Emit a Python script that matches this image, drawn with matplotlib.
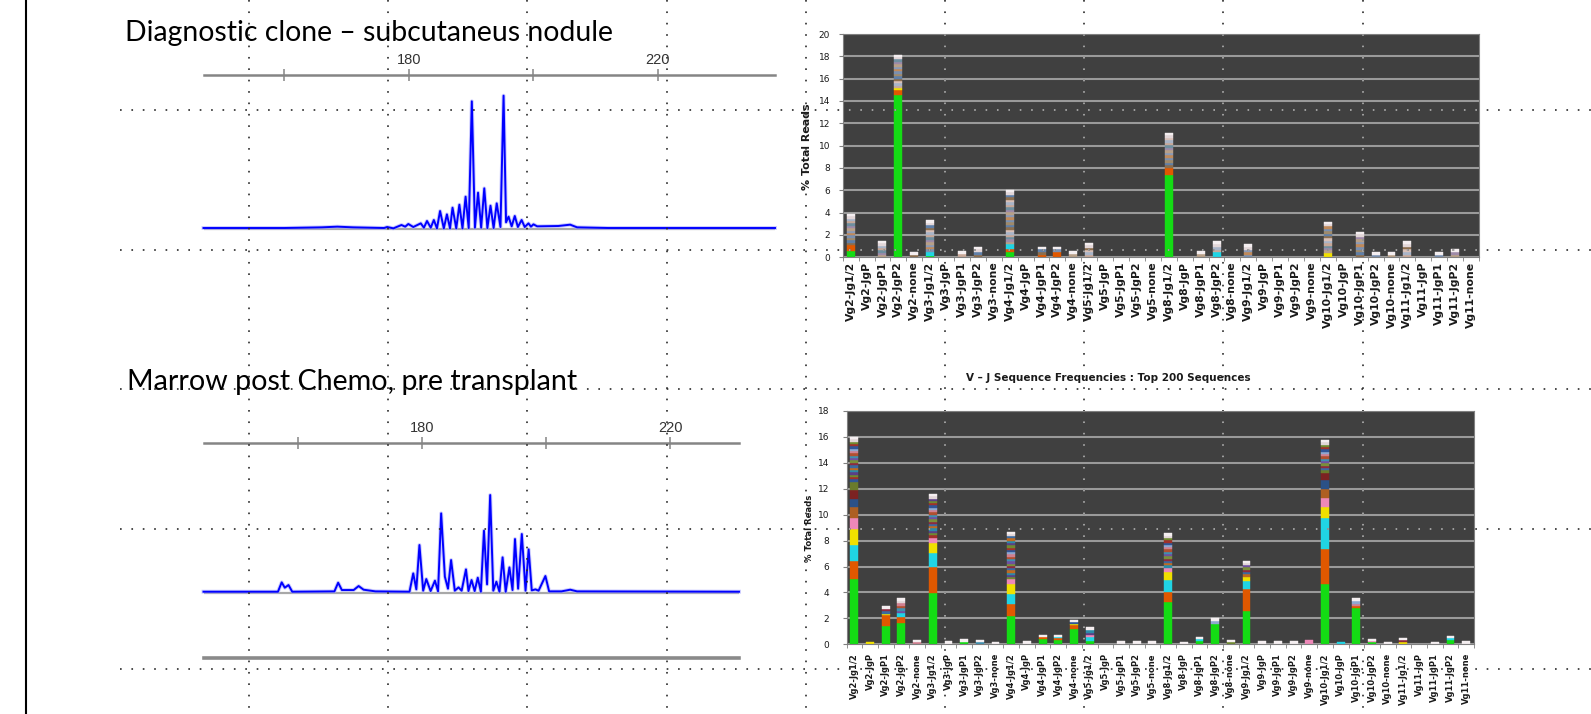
import numpy as np
import matplotlib
matplotlib.use("Agg")
import matplotlib.pyplot as plt
from matplotlib.lines import Line2D

plt.rcParams['lines.scale_dashes'] = False

W, H, DPI = 1591, 714, 100

# ---------------- data ----------------
# capillary electrophoresis traces: fragment size (bp) vs signal (RFU)
diag_bp = [147, 160, 166, 168.5, 171, 176, 176.5, 177.5, 178.8, 179.4, 179.9, 180.7,
           181.9, 182.4, 182.9, 183.5, 184.0, 184.5, 185.0, 185.6, 186.1, 186.6,
           187.0, 187.6, 188.1, 188.6, 189.1, 189.6, 190.1, 190.6, 191.1, 191.6,
           192.1, 192.6, 193.1, 193.6, 194.1, 194.7, 195.2, 195.6, 196.0, 196.5,
           197.0, 197.5, 198.1, 198.6, 199.2, 199.6, 200.0, 200.6, 204, 205.9, 207,
           212, 238.8]
diag_rfu = [30, 30, 50, 70, 50, 30, 60, 20, 120, 70, 150, 60,
            170, 40, 240, 40, 270, 20, 540, 20, 440, 20,
            640, 20, 730, 20, 970, 30, 3830, 40, 1090, 40,
            1220, 30, 700, 30, 770, 60, 4000, 200, 370, 80,
            390, 60, 270, 60, 170, 70, 140, 80, 90, 130, 50,
            30, 30]

marrow_bp = [144.8, 156.8, 157.4, 157.9, 158.5, 159.1, 165.9, 166.5, 167.1, 169.0, 169.8, 170.6, 172.5,
             178.0, 178.6, 179.1, 179.6, 180.2, 180.7, 181.4, 182.1, 182.6, 183.1, 183.7, 184.2,
             184.7, 185.3, 185.9, 186.4, 187.1, 187.5, 188.0, 188.5, 189.0, 189.5, 190.0, 190.5,
             191.0, 191.5, 192.0, 192.5, 193.0, 193.5, 194.1, 194.6, 195.0, 195.5, 196.1, 196.7,
             197.2, 197.7, 198.3, 198.8, 199.9, 200.5, 202.5, 203.9, 205, 231.1]
marrow_rfu = [30, 30, 310, 150, 230, 30, 40, 300, 80, 80, 200, 90, 40,
              30, 580, 100, 1430, 60, 410, 50, 360, 40, 2380, 480, 120,
              980, 60, 160, 60, 700, 50, 380, 50, 450, 30, 1860, 250,
              2930, 60, 330, 30, 1060, 30, 760, 80, 1610, 120, 1760, 60,
              1300, 70, 100, 60, 500, 40, 40, 90, 40, 30]

size_ticks = [160, 180, 200, 220]
size_labels = ['', '180', '', '220']

diag_title = "Diagnostic clone \u2013 subcutaneus nodule"
marrow_title = "Marrow post Chemo, pre transplant"
seq_title = "V \u2013 J Sequence Frequencies : Top 200 Sequences"
y_title = "% Total Reads"

v_genes = ["Vg2", "Vg3", "Vg4", "Vg5", "Vg8", "Vg9", "Vg10", "Vg11"]
j_genes = ["Jg1/2", "JgP", "JgP1", "JgP2", "none"]
categories = [v + "-" + j for v in v_genes for j in j_genes]

# % total reads, diagnostic sample (top chart)
diag_total = [3.9, 0, 1.45, 18.15, 0.45, 3.3, 0, 0.55, 0.95, 0,
              6.05, 0, 0.95, 0.95, 0.55, 1.3, 0, 0, 0, 0,
              11.15, 0, 0.55, 1.42, 0, 1.15, 0, 0, 0, 0,
              3.2, 0, 2.3, 0.45, 0.45, 1.42, 0, 0.45, 0.7, 0]
diag_green = [0.6, 0, 0, 14.55, 0, 0.15, 0, 0, 0, 0,
              0.45, 0, 0, 0, 0, 0, 0, 0, 0, 0,
              7.4, 0, 0, 0, 0, 0, 0, 0, 0, 0,
              0, 0, 0, 0, 0, 0, 0, 0, 0, 0]
diag_orange = [0.5, 0, 0, 0.4, 0, 0, 0, 0, 0, 0,
               0.3, 0, 0.2, 0.5, 0, 0, 0, 0, 0, 0,
               0.6, 0, 0, 0, 0, 0, 0, 0, 0, 0,
               0, 0, 0, 0, 0, 0, 0, 0, 0, 0]
diag_cyan = [0, 0, 0, 0, 0, 0.35, 0, 0, 0, 0,
             0.4, 0, 0, 0, 0, 0, 0, 0, 0, 0,
             0, 0, 0, 0.45, 0, 0, 0, 0, 0, 0,
             0, 0, 0, 0, 0, 0, 0, 0, 0, 0]
diag_yellow = [0, 0, 0, 0.2, 0, 0, 0, 0, 0, 0,
               0, 0, 0, 0, 0, 0, 0, 0, 0, 0,
               0, 0, 0, 0, 0, 0, 0, 0, 0, 0,
               0.4, 0, 0, 0, 0, 0, 0, 0, 0, 0]

# % total reads, marrow sample (bottom chart)
marrow_total = [16.0, 0.2, 2.95, 3.55, 0.3, 11.6, 0.22, 0.4, 0.3, 0.2,
                8.7, 0.22, 0.7, 0.7, 1.9, 1.3, 0, 0.22, 0.22, 0.22,
                8.55, 0.2, 0.55, 2.0, 0.3, 6.45, 0.22, 0.22, 0.22, 0.3,
                15.75, 0.2, 3.55, 0.4, 0.2, 0.5, 0, 0.2, 0.65, 0.22]
marrow_green = [5.05, 0, 1.42, 1.67, 0, 3.93, 0, 0.2, 0, 0,
                2.19, 0, 0.4, 0.3, 1.2, 0.25, 0, 0, 0, 0,
                3.26, 0, 0.25, 1.56, 0, 2.59, 0, 0, 0, 0,
                4.64, 0, 2.79, 0.15, 0, 0, 0, 0, 0.3, 0]
marrow_orange = [1.35, 0, 0.85, 0.46, 0, 2.01, 0, 0, 0, 0,
                 0.92, 0, 0.15, 0.15, 0.3, 0, 0, 0, 0, 0,
                 0.75, 0, 0, 0, 0, 1.67, 0, 0, 0, 0,
                 2.72, 0, 0.15, 0, 0, 0, 0, 0, 0, 0]
marrow_cyan = [1.25, 0, 0, 0.26, 0, 1.13, 0, 0, 0, 0,
               0.77, 0, 0, 0.1, 0, 0.35, 0, 0, 0, 0,
               0.95, 0, 0.15, 0, 0, 0.59, 0, 0, 0, 0,
               2.41, 0.2, 0, 0, 0, 0, 0, 0, 0.15, 0]
marrow_yellow = [1.25, 0.2, 0.1, 0, 0, 0.77, 0, 0, 0, 0,
                 0.77, 0, 0, 0, 0.05, 0, 0, 0, 0, 0,
                 0.6, 0, 0, 0, 0, 0.38, 0, 0, 0, 0,
                 0.85, 0, 0, 0, 0, 0.15, 0, 0, 0, 0]
marrow_pink = [0.85, 0, 0, 0, 0, 0.39, 0, 0, 0, 0,
               0.35, 0, 0, 0, 0, 0.1, 0, 0, 0, 0,
               0.35, 0, 0, 0, 0, 0, 0, 0, 0, 0.3,
               0.7, 0, 0, 0.1, 0, 0, 0, 0, 0, 0]
marrow_brown = [0.85] + [0] * 29 + [0.67] + [0] * 9
marrow_navy = [0.6] + [0] * 29 + [0.7] + [0] * 9
marrow_darkred = [0.7] + [0] * 29 + [0.51] + [0] * 9
marrow_olive = [0.65] + [0] * 29 + [0.22] + [0] * 9

# ---------------- colours ----------------
GREEN, ORANGE, CYAN, YELLOW = '#14dc14', '#e05800', '#20d4e4', '#f0e000'
PINK, BROWN, NAVY, DARKRED, OLIVE = '#ee88b8', '#ad5f22', '#2b5187', '#7c2222', '#6a7b2c'
diag_stripes = ['#8c6e4e', '#5f7fa8', '#a08a6a', '#7a90b0', '#c08a5a', '#8a9ab8',
                '#b8a088', '#9e8aa8', '#6e8fa0', '#c8a898', '#a8b4c8', '#d8c0b8']
marrow_stripes = ['#2f5597', '#a0302a', '#6f8a2f', '#5b3f86', '#2c8aa8', '#c06a20',
                  '#3b6aa0', '#8e2a40', '#7a8f3a', '#7050a0', '#4090b0', '#b05030',
                  '#d08090', '#8fa8d0']
top_light = ['#e2d6d8', '#f4eef0']

fig = plt.figure(figsize=(W / DPI, H / DPI), dpi=DPI)
fig.patch.set_facecolor('white')


def axes_px(x0, y0, x1, y1):
    return fig.add_axes([x0 / W, 1 - y1 / H, (x1 - x0) / W, (y1 - y0) / H])


def fit(t, target):
    bb = t.get_window_extent(fig.canvas.get_renderer())
    t.set_fontsize(t.get_fontsize() * target / max(bb.width, bb.height))


# ---------------- electropherograms ----------------
RFU_PER_PX = 30


def trace_panel(x0, x1, y_axis, y_base, y_bottom, xlim, bp, rfu, bottom_line):
    ax = axes_px(x0, y_axis, x1, y_bottom)
    ax.set_xlim(*xlim)
    ax.set_ylim(-(y_bottom - y_base) * RFU_PER_PX, (y_base - y_axis) * RFU_PER_PX)
    ax.patch.set_visible(False)
    ax.axhline(0, color='#a8a8a8', lw=1.6, zorder=2)
    # soft halo under the trace, like the screenshot's blur
    ax.plot(bp, rfu, color='#a8a8ff', lw=2.8, zorder=3, clip_on=False,
            solid_joinstyle='round', alpha=0.6)
    ax.plot(bp, rfu, color='#0000ff', lw=1.4, zorder=4, clip_on=False,
            solid_joinstyle='round')
    for s in ('left', 'right'):
        ax.spines[s].set_visible(False)
    ax.spines['top'].set_color('#858585')
    ax.spines['top'].set_linewidth(1.8)
    ax.spines['bottom'].set_visible(bottom_line)
    ax.spines['bottom'].set_color('#8a8a8a')
    ax.spines['bottom'].set_linewidth(2.6)
    ax.xaxis.tick_top()
    ax.set_xticks(size_ticks)
    ax.set_xticklabels(size_labels, family='Liberation Sans', fontsize=10.5, color='#333333')
    ax.tick_params(axis='x', direction='inout', length=8, width=1.1, color='#858585', pad=2)
    ax.set_yticks([])
    return ax


trace_panel(203.5, 775, 75, 229, 240, (147, 238.8), diag_bp, diag_rfu, False)
trace_panel(203.5, 739, 443.3, 592.7, 658.3, (144.8, 231.1), marrow_bp, marrow_rfu, True)

t = fig.text(125 / W, 1 - 41 / H, diag_title, family='Lato', fontsize=18, va='baseline', ha='left')
fit(t, 486)
t = fig.text(127 / W, 1 - 390 / H, marrow_title, family='Lato', fontsize=18, va='baseline', ha='left')
fit(t, 448)


# ---------------- stacked bar charts ----------------
def stacked_bars(ax, totals, layers, palette, step):
    xs, hs, bs, cs = [], [], [], []
    for i, total in enumerate(totals):
        level = 0.0
        for values, color in layers:
            if values[i] > 0:
                xs.append(i); hs.append(values[i]); bs.append(level); cs.append(color)
                level += values[i]
        rest = total - level
        if rest > 0.005:
            n = max(1, int(round(rest / step)))
            for k in range(n):
                if k == n - 1:
                    c = top_light[-1]
                elif n > 3 and k == n - 2:
                    c = top_light[0]
                else:
                    c = palette[(k + 3 * i) % len(palette)]
                xs.append(i); hs.append(rest / n); bs.append(level + k * rest / n); cs.append(c)
    ax.bar(xs, hs, bottom=bs, width=0.5, color=cs, edgecolor=cs, linewidth=0.3, zorder=2)


def style_bars(ax, ymax, label_size, xpad, ypad):
    ax.set_facecolor('#404040')
    ax.set_xlim(-0.5, len(categories) - 0.5)
    ax.set_ylim(0, ymax)
    ax.set_yticks(range(0, ymax + 1, 2))
    ax.yaxis.grid(True, color='#9a9a9a', lw=1.5)
    ax.set_axisbelow(True)
    ax.set_xticks(range(len(categories)))
    ax.set_xticklabels(categories, rotation=90, fontsize=label_size, fontweight='bold',
                       color='#1a1a1a')
    ax.set_xticks(np.arange(-0.5, len(categories)), minor=True)
    ax.tick_params(axis='x', which='major', length=0, pad=xpad)
    ax.tick_params(axis='x', which='minor', length=3, color='#808080')
    ax.tick_params(axis='y', length=3, color='#808080', labelsize=6.5, pad=ypad,
                   labelcolor='#1a1a1a')
    for s in ax.spines.values():
        s.set_color('#808080')
        s.set_linewidth(0.8)


ax_top = axes_px(842.7, 34, 1479, 257.3)
stacked_bars(ax_top, diag_total,
             [(diag_green, GREEN), (diag_orange, ORANGE), (diag_cyan, CYAN), (diag_yellow, YELLOW)],
             diag_stripes, 0.22)
style_bars(ax_top, 20, 7.8, 3.2, 6)

ax_bot = axes_px(846.5, 411, 1474, 644.3)
stacked_bars(ax_bot, marrow_total,
             [(marrow_green, GREEN), (marrow_orange, ORANGE), (marrow_cyan, CYAN),
              (marrow_yellow, YELLOW), (marrow_pink, PINK), (marrow_brown, BROWN),
              (marrow_navy, NAVY), (marrow_darkred, DARKRED), (marrow_olive, OLIVE)],
             marrow_stripes, 0.18)
style_bars(ax_bot, 18, 6.0, 6.3, 9.5)

t = fig.text(806.7 / W, 1 - 146.7 / H, y_title, rotation=90, ha='center', va='center',
             fontsize=7, fontweight='bold', color='#1a1a1a')
fit(t, 87)
t = fig.text(810 / W, 1 - 528 / H, y_title, rotation=90, ha='center', va='center',
             fontsize=6, fontweight='bold', color='#1a1a1a')
fit(t, 67)
t = fig.text(1108 / W, 1 - 378 / H, seq_title, ha='center', va='center',
             fontsize=8, fontweight='bold', color='#1a1a1a')
fit(t, 283)

# ---------------- slide overlay: border and dotted guides ----------------
fig.add_artist(Line2D([26 / W, 26 / W], [0, 1], color='black', lw=1.5))

guide_cols = [249, 388.2, 527.4, 666.6, 805.8, 945, 1084.2, 1223.4, 1362.6]
guide_rows = [110, 249.5, 389, 529, 668.5]


def guides(color, zorder, clip=None):
    segs = [([x / W, x / W], [1, 0]) for x in guide_cols]
    segs += [([120 / W, 1], [1 - y / H, 1 - y / H]) for y in guide_rows]
    for xs, ys in segs:
        ln = Line2D(xs, ys, color=color, lw=1.2, linestyle=(0, (1.2, 7.0)),
                    dash_capstyle='butt', zorder=zorder)
        fig.add_artist(ln)
        if clip is not None:
            ln.set_clip_box(clip)


guides('#2a2a2a', 10)
guides('#b4b4b4', 11, ax_top.bbox)
guides('#b4b4b4', 11, ax_bot.bbox)

fig.savefig('out.png', dpi=DPI)
